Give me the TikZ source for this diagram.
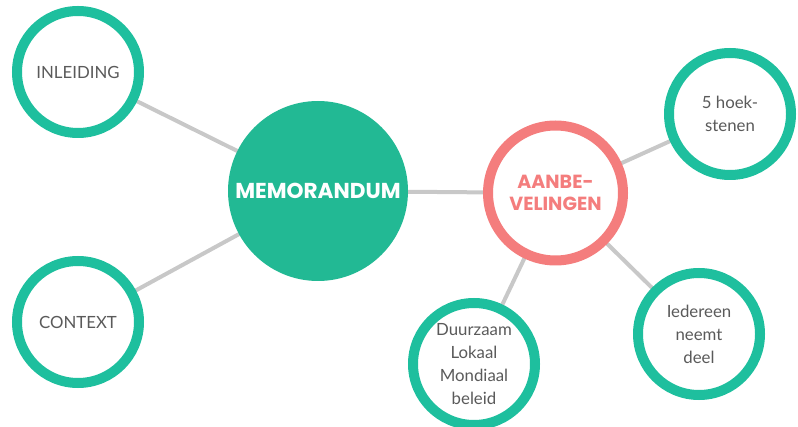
\documentclass[tikz,border=0pt]{standalone}
\usepackage{fontspec}
\setmainfont{Lato}
\newfontfamily\popfont{Poppins}
\usetikzlibrary{backgrounds}
\definecolor{teal1}{HTML}{1EBF9E}
\definecolor{memfill}{HTML}{22B994}
\definecolor{salmon}{HTML}{F47D7D}
\definecolor{linegray}{HTML}{C8C8C8}
\definecolor{txtgray}{HTML}{5A5A5A}
\begin{document}
\begin{tikzpicture}[x=1pt,y=-1pt,
  leaf/.style={circle,draw=teal1,line width=10pt,fill=white,minimum size=122pt,inner sep=0pt,
    align=center,text=txtgray,font=\fontsize{16.8}{23}\selectfont},
  hub/.style={circle,fill=memfill,minimum size=180pt,inner sep=0pt,text=white,
    font=\popfont\bfseries\fontsize{21.6}{25}\selectfont},
  sub/.style={circle,draw=salmon,line width=10pt,fill=white,minimum size=135pt,inner sep=0pt,
    align=center,text=salmon,font=\popfont\bfseries\fontsize{19}{22}\selectfont},
  link/.style={draw=linegray,line width=4pt}]
\useasboundingbox (0,0) rectangle (798,427);
\node[hub] (mem) at (318,191) {MEMORANDUM};
\node[sub] (aan) at (555.5,193) {AANBE-\\VELINGEN};
\node[leaf] (inl) at (78,72) {INLEIDING};
\node[leaf] (ctx) at (78,322) {CONTEXT};
\node[leaf] (hoek) at (730,114) {5 hoek-\\stenen};
\node[leaf] (ied) at (699,334) {Iedereen\\neemt\\deel};
\node[leaf] (duur) at (474,364) {Duurzaam\\Lokaal\\Mondiaal\\beleid};
\begin{scope}[on background layer]
\draw[link] (inl.center) -- (mem.center);
\draw[link] (ctx.center) -- (mem.center);
\draw[link] (mem.center) -- (aan.center);
\draw[link] (aan.center) -- (hoek.center);
\draw[link] (aan.center) -- (ied.center);
\draw[link] (aan.center) -- (duur.center);
\end{scope}
\end{tikzpicture}
\end{document}
